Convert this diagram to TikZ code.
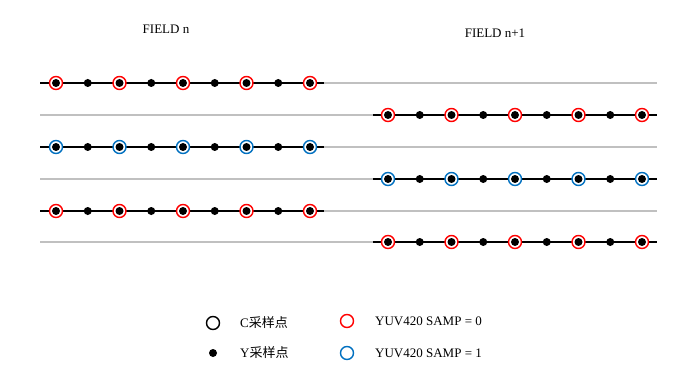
\documentclass[tikz,border=0pt]{standalone}
\usepackage{fontspec}
\setmainfont{Liberation Serif}
\newfontfamily\cjk{Noto Sans CJK SC}
\definecolor{sampred}{HTML}{FF0000}
\definecolor{sampblue}{HTML}{0070C0}
\definecolor{gridgray}{HTML}{C0C0C0}
\tikzset{
  ydot/.style={circle,fill=black,inner sep=0pt,minimum size=8pt},
  csamp/.style={circle,draw=#1,line width=1.4pt,fill=white,inner sep=0pt,minimum size=13pt},
  gridline/.style={draw=gridgray,line width=1.4pt},
  sampline/.style={draw=black,line width=1.3pt},
  lbl/.style={font=\fontsize{13}{15}\selectfont,inner sep=0pt}
}
\begin{document}
\begin{tikzpicture}[x=1pt,y=-1pt]
\useasboundingbox (0,0) rectangle (700,366);
% grid lines
\foreach \r in {83,115,147,179,211,242}{
  \coordinate (gL-\r) at (40,\r);
  \coordinate (gR-\r) at (657,\r);
  \draw[gridline] (gL-\r) -- (gR-\r);
}
% left field rows
\foreach \r/\c in {83/sampred,147/sampblue,211/sampred}{
  \coordinate (lL-\r) at (40,\r);
  \coordinate (lR-\r) at (324,\r);
  \draw[sampline] (lL-\r) -- (lR-\r);
  \foreach \i in {0,2,4,6,8}{
    \node[csamp=\c] (lc-\r-\i) at ({56+31.75*\i},\r) {};
  }
  \foreach \i in {0,...,8}{
    \node[ydot] (ly-\r-\i) at ({56+31.75*\i},\r) {};
  }
}
% right field rows
\foreach \r/\c in {115/sampred,179/sampblue,242/sampred}{
  \coordinate (rL-\r) at (373,\r);
  \coordinate (rR-\r) at (657,\r);
  \draw[sampline] (rL-\r) -- (rR-\r);
  \foreach \i in {0,2,4,6,8}{
    \node[csamp=\c] (rc-\r-\i) at ({388+31.75*\i},\r) {};
  }
  \foreach \i in {0,...,8}{
    \node[ydot] (ry-\r-\i) at ({388+31.75*\i},\r) {};
  }
}
% titles
\node[lbl] (t1) at (166,29) {FIELD n};
\node[lbl] (t2) at (495,33) {FIELD n+1};
% legend
\node[csamp=black] (legc) at (213,323) {};
\node[ydot] (legy) at (213,353) {};
\node[csamp=sampred] (legr) at (347,321) {};
\node[csamp=sampblue] (legb) at (347,353) {};
\node[lbl,anchor=west] (txc) at (240,323) {C{\cjk 采样点}};
\node[lbl,anchor=west] (txy) at (240,353) {Y{\cjk 采样点}};
\node[lbl,anchor=west] (txr) at (375,321) {YUV420 SAMP = 0};
\node[lbl,anchor=west] (txb) at (375,353) {YUV420 SAMP = 1};
\end{tikzpicture}
\end{document}
